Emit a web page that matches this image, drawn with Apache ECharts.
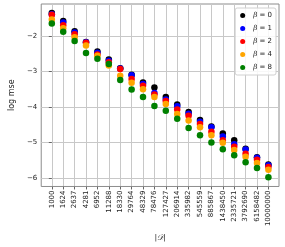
<!DOCTYPE html>
<html><head><meta charset="utf-8">
<script src="https://cdn.jsdelivr.net/npm/echarts@6/dist/echarts.min.js"></script>
<style>html,body{margin:0;padding:0;background:#fff}#c{width:285px;height:247px}</style>
</head><body><div id="c"></div>
<script>
const categories = ['1000','1624','2637','4281','6952','11288','18330','29764','48329','78476','127427','206914','335982','545559','885867','1438450','2335721','3792690','6158482','10000000'];
const betaLabels = ['0','1','2','4','8'];
const beta0 = [-1.35,-1.58,-1.87,-2.17,-2.44,-2.66,-2.91,-3.09,-3.31,-3.45,-3.72,-3.93,-4.14,-4.37,-4.55,-4.75,-4.94,-5.18,-5.42,-5.62];
const beta1 = [-1.39,-1.62,-1.90,-2.18,-2.47,-2.70,-2.92,-3.11,-3.35,-3.61,-3.79,-3.98,-4.19,-4.42,-4.57,-4.83,-5.05,-5.20,-5.43,-5.64];
const beta2 = [-1.40,-1.70,-1.95,-2.19,-2.52,-2.74,-2.93,-3.21,-3.40,-3.65,-3.83,-4.07,-4.25,-4.48,-4.70,-4.94,-5.12,-5.32,-5.49,-5.69];
const beta4 = [-1.54,-1.78,-2.04,-2.27,-2.56,-2.83,-3.12,-3.32,-3.50,-3.72,-3.92,-4.20,-4.38,-4.57,-4.80,-5.01,-5.21,-5.40,-5.58,-5.77];
const beta8 = [-1.65,-1.88,-2.14,-2.48,-2.64,-2.79,-3.24,-3.51,-3.72,-3.97,-4.11,-4.33,-4.59,-4.80,-5.00,-5.19,-5.36,-5.56,-5.72,-5.98];
const yTicks = [-6,-5,-4,-3,-2];
const colors = ['#000000','#0000ff','#ff0000','#ffa500','#008000'];
const allSeries = [beta0,beta1,beta2,beta4,beta8];

const chart = echarts.init(document.getElementById('c'), null, {renderer:'canvas'});
const gridColor = '#c8c8c8';
const xIdx = categories.map((_, i) => i);
chart.setOption({
  animation: false,
  grid: {left: 32, right: 6, top: 4, bottom: 57, show: true, borderColor: '#8c8c8c', borderWidth: 1, backgroundColor: 'transparent'},
  xAxis: {
    type: 'value', min: -0.93, max: 19.93,
    name: '|𝒟|', nameLocation: 'middle', nameGap: 42,
    nameTextStyle: {fontSize: 8, color: '#222', fontFamily: 'DejaVu Serif', fontStyle: 'italic'},
    axisLine: {show: false},
    axisTick: {show: true, inside: false, length: 3, lineStyle: {color: '#666'}, customValues: xIdx},
    splitLine: {show: true, lineStyle: {color: gridColor, width: 1}},
    axisLabel: {customValues: xIdx, rotate: 90, fontSize: 7, color: '#222', fontFamily: 'DejaVu Sans', margin: 4,
      formatter: v => categories[Math.round(v)] ?? ''}
  },
  yAxis: {
    type: 'value', min: -6.24, max: -1.10,
    name: 'log mse', nameLocation: 'middle', nameGap: 23,
    nameTextStyle: {fontSize: 8, color: '#222', fontFamily: 'DejaVu Sans'},
    axisLine: {show: false},
    axisTick: {show: true, inside: false, length: 3, lineStyle: {color: '#666'}, customValues: yTicks},
    splitLine: {show: true, lineStyle: {color: gridColor, width: 1}},
    axisLabel: {customValues: yTicks, fontSize: 7, color: '#222', fontFamily: 'DejaVu Sans', margin: 4,
      formatter: v => String(v).replace('-', '\u2212')}
  },
  legend: {
    right: 9, top: 8, orient: 'vertical',
    itemWidth: 5, itemHeight: 5, itemGap: 6, 
    backgroundColor: 'rgba(255,255,255,0.85)', borderColor: '#d0d0d0', borderWidth: 1, borderRadius: 2,
    padding: [4, 4, 4, 5],
    textStyle: {fontSize: 7, color: '#222', fontFamily: 'DejaVu Sans', padding: [0, 0, 0, 3],
      rich: {i: {fontStyle: 'italic', fontSize: 7, fontFamily: 'DejaVu Serif', color: '#222'}}},
    formatter: name => '{i|β} = ' + name.split('=')[1],
    data: betaLabels.map(b => ({name: 'β=' + b, icon: 'circle'}))
  },
  series: allSeries.map((arr, k) => ({
    name: 'β=' + betaLabels[k], type: 'scatter', symbol: 'circle', symbolSize: 6.5,
    itemStyle: {color: colors[k], opacity: 1},
    data: arr.map((v, i) => [i, v]), z: 2 + k
  }))
});
</script></body></html>
